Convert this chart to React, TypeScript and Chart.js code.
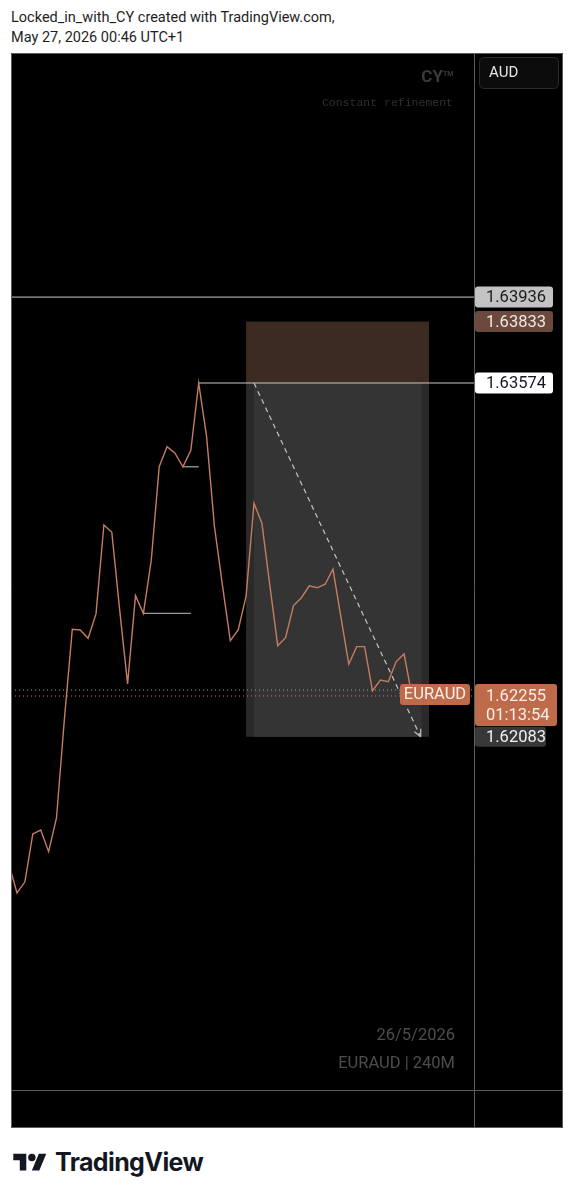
import React, { useEffect, useRef } from "react";
import { Chart, registerables } from "chart.js";

Chart.register(...registerables);

// ---- data (EURAUD, 240M) ----
const barIndex: number[] = [
  0, 1, 2, 3, 4, 5, 6, 7, 8, 9,
  10, 11, 12, 13, 14, 15, 16, 17, 18, 19,
  20, 21, 22, 23, 24, 25, 26, 27, 28, 29,
  30, 31, 32, 33, 34, 35, 36, 37, 38, 39,
  40, 41, 42, 43, 44, 45, 46, 47, 48, 49,
  50, 51,
];
const closePrices: number[] = [
  1.61543, 1.61425, 1.61472, 1.61674, 1.6169, 1.61599, 1.61741, 1.62158, 1.62536, 1.62533,
  1.62498, 1.62601, 1.62976, 1.62945, 1.62617, 1.62306, 1.62678, 1.62603, 1.62828, 1.63221,
  1.63306, 1.63278, 1.63221, 1.63289, 1.63574, 1.63348, 1.62968, 1.62723, 1.62488, 1.62533,
  1.62676, 1.63067, 1.62983, 1.62723, 1.62467, 1.62501, 1.62636, 1.62669, 1.62719, 1.62711,
  1.62726, 1.62789, 1.62588, 1.62389, 1.62463, 1.62463, 1.62277, 1.62322, 1.62315, 1.624,
  1.62432, 1.62255,
];
const viewRange: number[] = [0.24, 58.85]; // visible bars
const priceRange: number[] = [1.605947, 1.649646]; // visible prices
const highLevel = 1.63936;
const stopPrice = 1.63833;
const entryPrice = 1.63574;
const targetPrice = 1.62083;
const lastPrice = 1.62255;
const prevClose = 1.6228;
const swingLevels: number[] = [1.63221, 1.62603];
const swingStart: number[] = [22, 17];
const swingEnd: number[] = [24, 23];
const entryBar = 24;
const toolBars: number[] = [30, 53.15]; // position tool start/end
const toolInnerBars: number[] = [31, 52.2];
const arrowBars: number[] = [31, 52.1];
const countdown = "01:13:54";
const symbol = "EURAUD";
const currency = "AUD";
const dateText = "26/5/2026";
const intervalText = "EURAUD | 240M";
const watermarkTitle = "CY";
const watermarkSub = "Constant refinement";
const authorLine = "Locked_in_with_CY created with TradingView.com,";
const timestampLine = "May 27, 2026 00:46 UTC+1";
const brand = "TradingView";

const fmt = (p: number) => p.toFixed(5);

function rr(ctx: CanvasRenderingContext2D, x: number, y: number, w: number, h: number, r: number) {
  ctx.beginPath();
  ctx.moveTo(x + r, y);
  ctx.lineTo(x + w - r, y);
  ctx.quadraticCurveTo(x + w, y, x + w, y + r);
  ctx.lineTo(x + w, y + h - r);
  ctx.quadraticCurveTo(x + w, y + h, x + w - r, y + h);
  ctx.lineTo(x + r, y + h);
  ctx.quadraticCurveTo(x, y + h, x, y + h - r);
  ctx.lineTo(x, y + r);
  ctx.quadraticCurveTo(x, y, x + r, y);
  ctx.closePath();
}

const tvPlugin = {
  id: "tvDecor",
  beforeDraw(chart: any) {
    const { ctx, width, height } = chart;
    ctx.save();
    ctx.fillStyle = "#000";
    ctx.fillRect(0, 0, width, height);
    ctx.restore();
  },
  beforeDatasetsDraw(chart: any) {
    const { ctx, chartArea } = chart;
    const xs = chart.scales.x;
    const ys = chart.scales.y;
    const R = chartArea.right;
    ctx.save();
    // watermarks
    ctx.textBaseline = "middle";
    ctx.textAlign = "right";
    ctx.fillStyle = "#3a3a3a";
    ctx.font = "bold 17px Roboto";
    ctx.fillText(watermarkTitle, R - 31, 25);
    ctx.font = "bold 7px Roboto";
    ctx.textAlign = "left";
    ctx.fillText("TM", R - 31, 21);
    ctx.textAlign = "right";
    ctx.fillStyle = "#2f2f2f";
    ctx.font = '11.5px "Liberation Mono", monospace';
    ctx.fillText(watermarkSub, R - 21, 50);
    ctx.fillStyle = "#4d4d4d";
    ctx.font = "16.5px Roboto";
    ctx.fillText(dateText, R - 19, chartArea.bottom - 54);
    ctx.fillText(intervalText, R - 19, chartArea.bottom - 26);

    // position tool (short)
    const x0 = xs.getPixelForValue(toolBars[0]);
    const x1 = xs.getPixelForValue(toolBars[1]);
    const xi0 = xs.getPixelForValue(toolInnerBars[0]);
    const xi1 = xs.getPixelForValue(toolInnerBars[1]);
    const yStop = ys.getPixelForValue(stopPrice);
    const yEntry = ys.getPixelForValue(entryPrice);
    const yTarget = ys.getPixelForValue(targetPrice);
    ctx.fillStyle = "#3c2b22";
    ctx.fillRect(x0, yStop, x1 - x0, yEntry - yStop);
    ctx.fillStyle = "#2a2a2a";
    ctx.fillRect(x0, yEntry, x1 - x0, yTarget - yEntry);
    ctx.fillStyle = "#343434";
    ctx.fillRect(xi0, yEntry, xi1 - xi0, yTarget - yEntry);
    ctx.restore();
  },
  afterDatasetsDraw(chart: any) {
    const { ctx } = chart;
    const xs = chart.scales.x;
    const ys = chart.scales.y;
    const ax = xs.getPixelForValue(arrowBars[0]);
    const ay = ys.getPixelForValue(entryPrice);
    const bx = xs.getPixelForValue(arrowBars[1]);
    const by = ys.getPixelForValue(targetPrice);
    const ang = Math.atan2(by - ay, bx - ax);
    ctx.save();
    ctx.strokeStyle = "#c4c4c4";
    ctx.lineWidth = 1.2;
    ctx.beginPath();
    for (const s of [-0.45, 0.45]) {
      ctx.moveTo(bx, by);
      ctx.lineTo(bx - 8 * Math.cos(ang + s), by - 8 * Math.sin(ang + s));
    }
    ctx.stroke();
    ctx.restore();
  },
  afterDraw(chart: any) {
    const { ctx, chartArea, width, height } = chart;
    const ys = chart.scales.y;
    const R = chartArea.right;
    const B = chartArea.bottom;
    ctx.save();
    // frame + separators
    ctx.strokeStyle = "#5c5c5c";
    ctx.lineWidth = 1;
    ctx.beginPath();
    ctx.rect(0.5, 0.5, width - 1, height - 1);
    ctx.moveTo(R + 0.5, 0);
    ctx.lineTo(R + 0.5, height);
    ctx.moveTo(0, B + 0.5);
    ctx.lineTo(width, B + 0.5);
    ctx.stroke();

    // currency box
    rr(ctx, R + 5.5, 4.5, 79, 31, 5);
    ctx.fillStyle = "#0c0c0c";
    ctx.fill();
    ctx.strokeStyle = "#2c2c2c";
    ctx.stroke();
    ctx.fillStyle = "#e6e6e6";
    ctx.font = "15px Roboto";
    ctx.textAlign = "left";
    ctx.textBaseline = "middle";
    ctx.fillText(currency, R + 15, 20);

    const font = "16.5px Roboto";
    const label = (p: number, w: number, bg: string, fg: string, text: string) => {
      const y = ys.getPixelForValue(p);
      rr(ctx, R + 1, y - 10.5, w, 21, 3);
      ctx.fillStyle = bg;
      ctx.fill();
      ctx.fillStyle = fg;
      ctx.font = font;
      ctx.textAlign = "left";
      ctx.textBaseline = "middle";
      ctx.fillText(text, R + 12, y + 1);
    };
    label(highLevel, 78, "#c3c3c3", "#1b1b1b", fmt(highLevel));
    label(stopPrice, 78, "#6b4a3d", "#f2e6e0", fmt(stopPrice));
    label(entryPrice, 78, "#ffffff", "#131722", fmt(entryPrice));

    // last price + countdown
    const yl = ys.getPixelForValue(lastPrice);
    const orange = "#bd6b4b";
    rr(ctx, R + 1, yl - 12, 82, 42, 3);
    ctx.fillStyle = orange;
    ctx.fill();
    ctx.fillStyle = "#fbeee8";
    ctx.font = font;
    ctx.textAlign = "left";
    ctx.fillText(fmt(lastPrice), R + 12, yl + 1);
    ctx.fillText(countdown, R + 12, yl + 20);
    // symbol tag
    rr(ctx, R - 74, yl - 12, 70, 21, 3);
    ctx.fillStyle = orange;
    ctx.fill();
    ctx.fillStyle = "#fbeee8";
    ctx.textAlign = "center";
    ctx.fillText(symbol, R - 39, yl - 1);
    // target price
    const yt = ys.getPixelForValue(targetPrice);
    rr(ctx, R + 1, yt - 10, 71, 20, 3);
    ctx.fillStyle = "#383838";
    ctx.fill();
    ctx.fillStyle = "#f0f0f0";
    ctx.textAlign = "left";
    ctx.fillText(fmt(targetPrice), R + 12, yt + 1);
    ctx.restore();
  },
};

function TradingChart() {
  const ref = useRef<HTMLCanvasElement | null>(null);
  useEffect(() => {
    if (!ref.current) return;
    const [x0, x1] = viewRange;
    const line = (pts: { x: number; y: number }[], color: string, w: number, dash: number[] = []) => ({
      data: pts,
      borderColor: color,
      borderWidth: w,
      borderDash: dash,
      pointRadius: 0,
      tension: 0,
      fill: false,
    });
    const chart = new Chart(ref.current, {
      type: "line",
      data: {
        datasets: [
          line(barIndex.map((b, i) => ({ x: b, y: closePrices[i] })), "#c57d5f", 1.4),
          line([{ x: arrowBars[0], y: entryPrice }, { x: arrowBars[1], y: targetPrice }], "#c4c4c4", 1.2, [5, 4]),
          line([{ x: x0, y: highLevel }, { x: x1, y: highLevel }], "#c9c9c9", 1),
          line([{ x: entryBar, y: entryPrice }, { x: x1, y: entryPrice }], "#c9c9c9", 1),
          line([{ x: swingStart[0], y: swingLevels[0] }, { x: swingEnd[0], y: swingLevels[0] }], "#9d9d9d", 1.3),
          line([{ x: swingStart[1], y: swingLevels[1] }, { x: swingEnd[1], y: swingLevels[1] }], "#9d9d9d", 1.3),
          line([{ x: x0, y: prevClose }, { x: x1, y: prevClose }], "#9a9a9a", 1, [1, 3]),
          line([{ x: x0, y: lastPrice }, { x: x1, y: lastPrice }], "#c57d5f", 1, [1, 3]),
        ] as any,
      },
      options: {
        animation: false,
        responsive: true,
        maintainAspectRatio: false,
        events: [],
        layout: { padding: { left: 0, top: 0, right: 89, bottom: 38 } },
        plugins: { legend: { display: false }, tooltip: { enabled: false } },
        scales: {
          x: { type: "linear", min: viewRange[0], max: viewRange[1], display: false },
          y: { type: "linear", min: priceRange[0], max: priceRange[1], display: false },
        },
      },
      plugins: [tvPlugin],
    } as any);
    return () => chart.destroy();
  }, []);
  return <canvas ref={ref} />;
}

export default function App() {
  return (
    <div
      style={{
        position: "fixed",
        left: 0,
        top: 0,
        width: 574,
        height: 1200,
        background: "#fff",
        fontFamily: "Roboto, sans-serif",
      }}
    >
      <div style={{ position: "absolute", left: 11, top: 8, fontSize: 14.5, lineHeight: "20px", color: "#1e1e1e" }}>
        {authorLine}
        <br />
        {timestampLine}
      </div>
      <div style={{ position: "absolute", left: 11, top: 53, width: 552, height: 1075 }}>
        <TradingChart />
      </div>
      <svg
        style={{ position: "absolute", left: 13, top: 1150 }}
        width={34}
        height={26}
        viewBox="0 0 36 28"
      >
        <path d="M14 22H7V11H0V4h14v18z M28 22h-8l7.5-18h8L28 22z" fill="#131722" />
        <circle cx="20" cy="8" r="4" fill="#131722" />
      </svg>
      <div
        style={{
          position: "absolute",
          left: 55,
          top: 1150,
          fontFamily: "Inter, sans-serif",
          fontWeight: 700,
          fontSize: 25,
          lineHeight: "25px",
          letterSpacing: "-0.6px",
          color: "#131722",
        }}
      >
        {brand}
      </div>
    </div>
  );
}
